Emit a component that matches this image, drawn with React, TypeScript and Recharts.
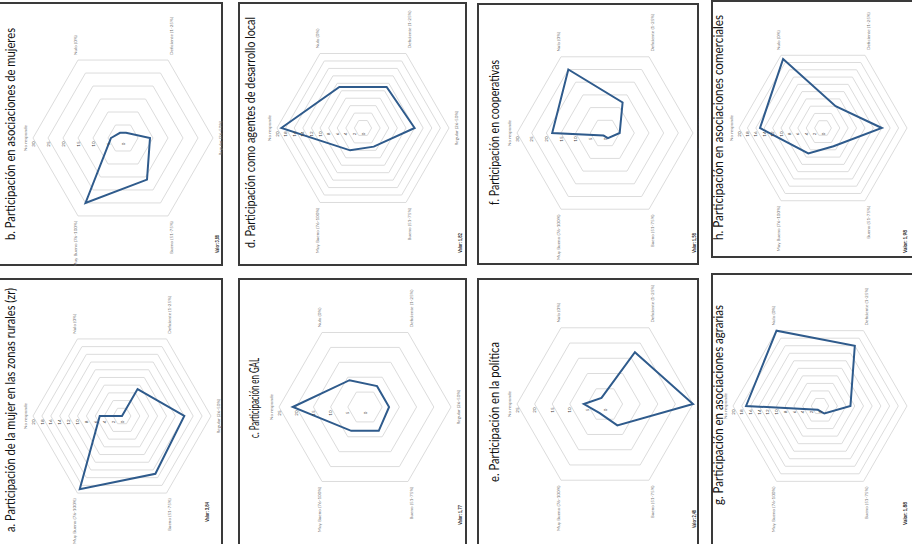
import React from 'react';
import { RadarChart, Radar, PolarGrid, PolarAngleAxis, PolarRadiusAxis } from 'recharts';

// axis categories, clockwise from the top of each (unrotated) radar
const categories = [
  'No responde',
  'Nulo (0%)',
  'Deficiente (1-25%)',
  'Regular (26-50%)',
  'Bueno (51-75%)',
  'Muy Bueno (76-100%)',
];

// series values, one per category
const zonasRurales = [5, 0, 7, 14, 15, 19]; // a
const asocMujeres = [4, 2, 2, 9, 16, 25]; // b
const gal = [21, 9, 7, 7, 8, 8]; // c
const desarrolloLocal = [19, 11, 11, 12, 5, 6]; // d
const politica = [6, 2, 17, 25, 7, 3]; // e
const cooperativas = [18, 25, 12, 5, 2, 1]; // f
const agrarias = [17, 20, 16, 7, 2, 1]; // g
const comerciales = [15, 19, 6, 14, 5, 7]; // h

// radius tick labels
const ticks20 = [0, 2, 4, 6, 8, 10, 12, 14, 16, 18, 20];
const ticks25 = [0, 5, 10, 15, 20, 25];
const ticks30 = [0, 5, 10, 15, 20, 25, 30];

const titleA = 'a. Participación de la mujer en las zonas rurales (zr)';
const titleB = 'b. Participación en asociaciones de mujeres';
const titleC = 'c. Participación en GAL';
const titleD = 'd. Participación como agentes de desarrollo local';
const titleE = 'e. Participación en la política';
const titleF = 'f. Participación en cooperativas';
const titleG = 'g. Participación en asociaciones agrarias';
const titleH = 'h. Participación en asociaciones comerciales';

const valorA = 'Valor: 3,84';
const valorB = 'Valor: 3,88';
const valorC = 'Valor: 1,77';
const valorD = 'Valor: 1,82';
const valorE = 'Valor: 2,48';
const valorF = 'Valor: 1,58';
const valorG = 'Valor: 1,88';
const valorH = 'Valor: 1,98';

// layout, in page coordinates of the (rotated) picture
const panels = [
  { key: 'b', values: asocMujeres, ticks: ticks30, title: titleB, valor: valorB,
    box: { left: -5, top: 2, w: 228, h: 264 }, cx: 123, cy: 138, r: 90,
    t: { x: 11, y0: 240, y1: 28 }, v: { x: 217, y0: 253, y1: 235 } },
  { key: 'a', values: zonasRurales, ticks: ticks20, title: titleA, valor: valorA,
    box: { left: -5, top: 278, w: 228, h: 290 }, cx: 122, cy: 416, r: 89,
    t: { x: 11, y0: 532, y1: 288 }, v: { x: 207, y0: 522, y1: 502 } },
  { key: 'd', values: desarrolloLocal, ticks: ticks20, title: titleD, valor: valorD,
    box: { left: 238, top: 2, w: 229, h: 264 }, cx: 363, cy: 128, r: 86,
    t: { x: 251, y0: 248, y1: 17 }, v: { x: 460, y0: 253, y1: 233 } },
  { key: 'c', values: gal, ticks: ticks25, title: titleC, valor: valorC,
    box: { left: 238, top: 278, w: 229, h: 290 }, cx: 365, cy: 407, r: 86,
    t: { x: 255, y0: 438, y1: 358 }, v: { x: 460, y0: 525, y1: 505 } },
  { key: 'f', values: cooperativas, ticks: ticks30, title: titleF, valor: valorF,
    box: { left: 477, top: 3, w: 222, h: 262 }, cx: 605, cy: 133, r: 88,
    t: { x: 495, y0: 205, y1: 60 }, v: { x: 694, y0: 253, y1: 233 } },
  { key: 'e', values: politica, ticks: ticks25, title: titleE, valor: valorE,
    box: { left: 477, top: 278, w: 222, h: 290 }, cx: 605, cy: 404, r: 88,
    t: { x: 495, y0: 482, y1: 342 }, v: { x: 694, y0: 528, y1: 510 } },
  { key: 'h', values: comerciales, ticks: ticks20, title: titleH, valor: valorH,
    box: { left: 711, top: 0, w: 215, h: 258 }, cx: 823, cy: 128, r: 84,
    t: { x: 719, y0: 240, y1: 15 }, v: { x: 905, y0: 253, y1: 230 } },
  { key: 'g', values: agrarias, ticks: ticks20, title: titleG, valor: valorG,
    box: { left: 711, top: 273, w: 215, h: 290 }, cx: 820, cy: 406, r: 87,
    t: { x: 719, y0: 505, y1: 305 }, v: { x: 905, y0: 525, y1: 502 } },
];

const FONT = 'Lato, "Open Sans", sans-serif';

const RadiusTick = (props: any) => {
  const { x, y, payload } = props;
  return (
    <text x={x - 6} y={y} dy={1.6} textAnchor="middle" fontSize={4.5} fill="#444" fontFamily={FONT}>
      {payload.value}
    </text>
  );
};

function Panel({ p }: { p: any }) {
  const { box } = p;
  // unrotated frame: width = box height, height = box width
  const fw = box.h;
  const fh = box.w;
  const loc = (X: number, Y: number) => ({ x: box.top + box.h - Y, y: X - box.left });
  const c = loc(p.cx, p.cy);
  const t0 = loc(p.t.x, p.t.y0);
  const v0 = loc(p.v.x, p.v.y0);
  const data = categories.map((name, i) => ({ name, value: p.values[i] }));
  const max = p.ticks[p.ticks.length - 1];

  return (
    <>
      <div
        style={{
          position: 'absolute', left: box.left, top: box.top, width: box.w, height: box.h,
          border: '2px solid #3a3a3a', boxSizing: 'border-box',
        }}
      />
      <div
        style={{
          position: 'absolute', left: box.left, top: box.top, width: fw, height: fh,
          transformOrigin: '0 0', transform: `translateY(${box.h}px) rotate(-90deg)`,
        }}
      >
        <RadarChart
          width={fw}
          height={fh}
          cx={c.x}
          cy={c.y}
          outerRadius={p.r}
          data={data}
          margin={{ top: 0, right: 0, bottom: 0, left: 0 }}
        >
          <PolarGrid stroke="#dcdcdc" radialLines={false} />
          <PolarAngleAxis
            dataKey="name"
            tick={{ fontSize: 4.6, fill: '#777', fontFamily: FONT }}
            tickLine={false}
            axisLine={false}
            tickSize={6}
          />
          <PolarRadiusAxis
            angle={90}
            domain={[0, max]}
            ticks={p.ticks}
            tickCount={p.ticks.length}
            axisLine={false}
            tick={RadiusTick}
          />
          <Radar
            dataKey="value"
            stroke="#2f5b8c"
            strokeWidth={2}
            fill="none"
            fillOpacity={0}
            dot={false}
            isAnimationActive={false}
          />
        </RadarChart>
        <svg width={fw} height={fh} style={{ position: 'absolute', left: 0, top: 0, pointerEvents: 'none' }}>
          <text
            x={t0.x}
            y={t0.y + 4.3}
            fontSize={12.5}
            fill="#111"
            fontFamily={FONT}
            textLength={p.t.y0 - p.t.y1}
            lengthAdjust="spacingAndGlyphs"
          >
            {p.title}
          </text>
          <text
            x={v0.x}
            y={v0.y + 2}
            fontSize={5.5}
            fontWeight="bold"
            fill="#222"
            fontFamily={FONT}
            textLength={p.v.y0 - p.v.y1}
            lengthAdjust="spacingAndGlyphs"
          >
            {p.valor}
          </text>
        </svg>
      </div>
    </>
  );
}

export default function App() {
  return (
    <div
      style={{
        position: 'absolute', left: 0, top: 0, width: 912, height: 544,
        overflow: 'hidden', background: '#fff',
      }}
    >
      {panels.map((p) => (
        <Panel key={p.key} p={p} />
      ))}
    </div>
  );
}
